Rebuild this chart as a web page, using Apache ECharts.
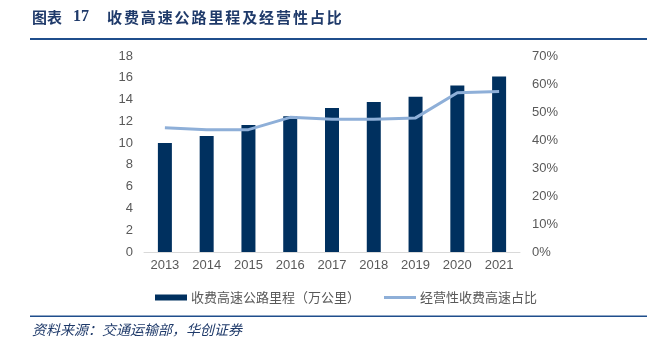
<!DOCTYPE html>
<html><head><meta charset="utf-8">
<script src="https://cdn.jsdelivr.net/npm/echarts@6/dist/echarts.min.js"></script>
<style>html,body{margin:0;padding:0;background:#fff}#c{width:668px;height:343px}</style>
</head><body><div id="c"></div>
<script>
const years = ['2013','2014','2015','2016','2017','2018','2019','2020','2021'];
const mileage = [10.0, 10.65, 11.66, 12.46, 13.22, 13.77, 14.26, 15.28, 16.12];
const shareOperating = [44.4, 43.7, 43.7, 48.1, 47.4, 47.4, 47.9, 56.9, 57.3];
const barName = '收费高速公路里程（万公里）';
const lineName = '经营性收费高速占比';
const titleLabel = '图表';
const titleNum = '17';
const titleText = '收费高速公路里程及经营性占比';
const sourceText = '资料来源：交通运输部，华创证券';

const chart = echarts.init(document.getElementById('c'));
const gray = '#595959';
const titleColor = '#1f3a6a';
const titleFont = 'bold 15px "Noto Sans CJK SC", sans-serif';
const graphics = [
  {type: 'text', x: 32, y: 17, style: {text: titleLabel, fill: titleColor, font: titleFont, textVerticalAlign: 'middle'}},
  {type: 'text', x: 73, y: 17, style: {text: titleNum, fill: titleColor, font: 'bold 16px "Liberation Serif", serif', textVerticalAlign: 'middle'}},
  {type: 'rect', shape: {x: 30, y: 38, width: 617, height: 2}, style: {fill: '#1f4e8c'}},
  {type: 'rect', shape: {x: 30, y: 315.5, width: 617, height: 1.6}, style: {fill: '#1f4e8c'}},
  {type: 'text', x: 32, y: 330, style: {text: sourceText, fill: titleColor,
    font: 'italic 14px "Noto Sans CJK SC", sans-serif', textVerticalAlign: 'middle'}}
];
Array.from(titleText).forEach((ch, i) => {
  graphics.push({type: 'text', x: 107 + i * 16.9, y: 17,
    style: {text: ch, fill: titleColor, font: titleFont, textVerticalAlign: 'middle'}});
});

chart.setOption({
  animation: false,
  textStyle: {fontFamily: 'Liberation Sans, Arial, sans-serif'},
  grid: {left: 144, right: 148, top: 56, bottom: 91},
  legend: {
    left: 150, top: 286, itemWidth: 32, itemHeight: 6, itemGap: 24,
    textStyle: {color: gray, fontSize: 13, fontFamily: 'Noto Sans CJK SC', padding: [0, 0, 0, -1]},
    data: [
      {name: barName, icon: 'rect'},
      {name: lineName, icon: 'path://M0,0 H32 V3 H0 Z'}
    ]
  },
  xAxis: {
    type: 'category', data: years,
    axisLine: {lineStyle: {color: '#d9d9d9', width: 1}},
    axisTick: {show: false},
    axisLabel: {color: gray, fontSize: 13, margin: 7}
  },
  yAxis: [
    {type: 'value', min: 0, max: 18, interval: 2, splitLine: {show: false},
     axisLabel: {color: gray, fontSize: 13, margin: 11}},
    {type: 'value', min: 0, max: 70, interval: 10, splitLine: {show: false},
     axisLabel: {color: gray, fontSize: 13, margin: 12, formatter: '{value}%'}}
  ],
  series: [
    {name: barName, type: 'bar', data: mileage, barWidth: 14,
     itemStyle: {color: '#00305f'}},
    {name: lineName, type: 'line', yAxisIndex: 1, data: shareOperating,
     symbol: 'none', lineStyle: {color: '#8eafd8', width: 3},
     itemStyle: {color: '#8eafd8'}}
  ],
  graphic: graphics
});
</script></body></html>
